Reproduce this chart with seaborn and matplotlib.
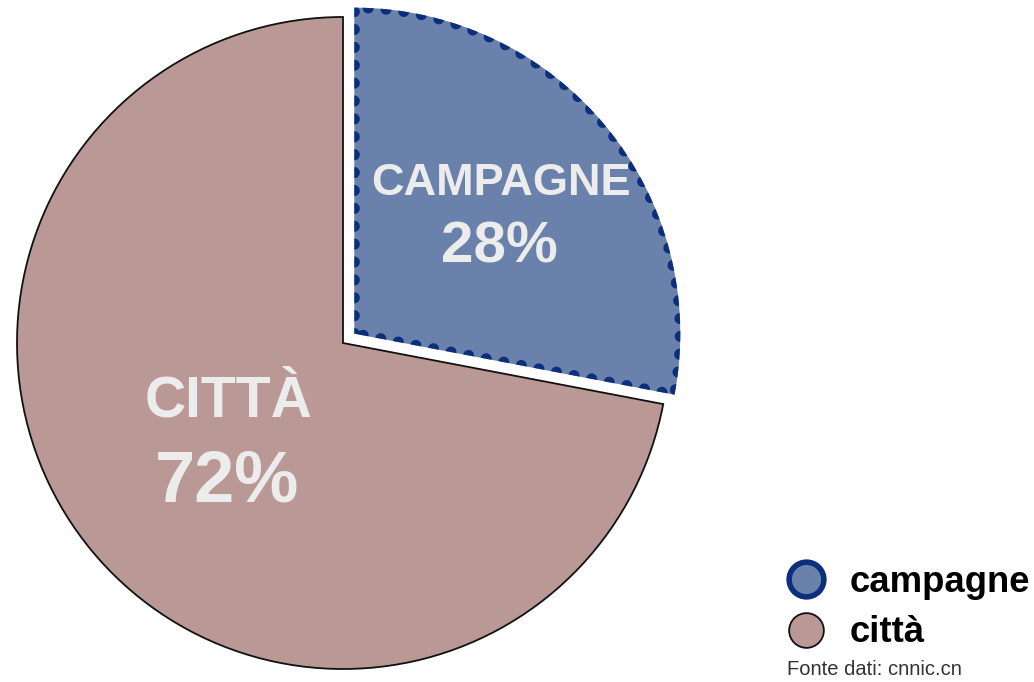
import numpy as np
import matplotlib.pyplot as plt
from matplotlib.lines import Line2D
from matplotlib.patches import Polygon
import seaborn as sns

# dati
categorie = ["campagne", "città"]
etichette = ["CAMPAGNE", "CITTÀ"]
valori = [28, 72]
colori = ["#6a81ab", "#b99896"]
bordi = ["#0b2f7c", "#111111"]

sns.set_theme(style="white")
plt.rcParams['font.family'] = ['Liberation Sans', 'DejaVu Sans']

fig = plt.figure(figsize=(10.34, 6.82), dpi=100)
ax = fig.add_axes([17/1034, 13/682, 652/1034, 652/682])

wedges, _ = ax.pie(valori, startangle=90, counterclock=False,
                   explode=[0.045, 0], colors=colori, radius=1,
                   wedgeprops=dict(linewidth=1.3, edgecolor="black"))
wedges[1].set_edgecolor(bordi[1])

# bordo a pallini dello spicchio campagne, tagliato dentro lo spicchio
w = wedges[0]
w.set_edgecolor("none")
ang = np.radians(np.linspace(w.theta2, w.theta1, 400))
cx, cy = w.center
punti = np.vstack([[cx, cy],
                   np.column_stack([cx + w.r * np.cos(ang), cy + w.r * np.sin(ang)])])
taglio = Polygon(punti, closed=True, facecolor="none", edgecolor="none",
                 transform=ax.transData)
bordo = Polygon(punti, closed=True, fill=False, edgecolor=bordi[0],
                linewidth=8, linestyle=(0, (0.01, 1.6)), capstyle="round",
                joinstyle="round")
ax.add_patch(bordo)
bordo.set_clip_path(taglio)
bordo.set_clip_box(None)  # lo spicchio esploso esce dagli assi

ax.set_xlim(-1, 1)
ax.set_ylim(-1, 1)
ax.set_aspect("equal")
ax.axis("off")

testo = "#ececec"
ax.text(0.485, 0.488, etichette[0], ha="center", va="center",
        fontsize=32.5, fontweight="bold", color=testo)
ax.text(0.48, 0.292, f"{valori[0]}%", ha="center", va="center",
        fontsize=42, fontweight="bold", color=testo)
ax.text(-0.35, -0.179, etichette[1], ha="center", va="center",
        fontsize=41, fontweight="bold", color=testo)
ax.text(-0.355, -0.428, f"{valori[1]}%", ha="center", va="center",
        fontsize=52, fontweight="bold", color=testo)

maniglie = [
    Line2D([0], [0], marker="o", linestyle="none", markersize=25,
           markerfacecolor=colori[0], markeredgecolor=bordi[0], markeredgewidth=4),
    Line2D([0], [0], marker="o", linestyle="none", markersize=25,
           markerfacecolor=colori[1], markeredgecolor=bordi[1], markeredgewidth=1.3),
]
fig.legend(maniglie, categorie, loc="lower left", bbox_to_anchor=(0.744, 0.025),
           frameon=False, prop=dict(weight="bold", size=26.3), labelcolor="black",
           handletextpad=0.6, labelspacing=0.42, borderaxespad=0, handlelength=1.2)

fig.text(787/1034, 1 - 675/682, "Fonte dati: cnnic.cn", fontsize=14.5,
         color="#333333", ha="left", va="baseline")

fig.savefig("out.png", dpi=100)
